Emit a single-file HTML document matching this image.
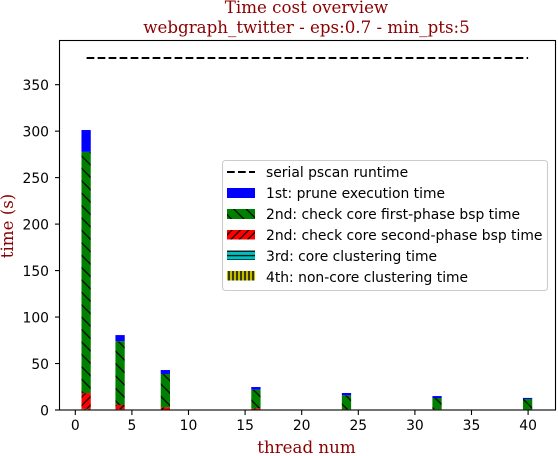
<!DOCTYPE html>
<html>
<head>
<meta charset="utf-8">
<style>
html,body{margin:0;padding:0;background:#fff;}
svg{display:block;}
text{font-family:"DejaVu Sans","Liberation Sans",sans-serif;font-size:13.89px;fill:#000;}
.serif{font-family:"DejaVu Serif","Liberation Serif",serif;fill:#8b0000;font-size:16.67px;text-anchor:middle;}
</style>
</head>
<body>
<svg id="chart" width="558" height="456" viewBox="0 0 558 456" xmlns="http://www.w3.org/2000/svg">
<defs>
<pattern id="h-green" patternUnits="userSpaceOnUse" width="12.4" height="12.4"><rect width="12.4" height="12.4" fill="#008000"/><path d="M-2,-2 L14.4,14.4 M-2,10.4 L2,14.4 M10.4,-2 L14.4,2" stroke="#000" stroke-width="1.2"/></pattern>
<pattern id="h-red" patternUnits="userSpaceOnUse" width="8.4" height="8.4"><rect width="8.4" height="8.4" fill="#ff0000"/><path d="M-2,10.4 L10.4,-2 M-2,2 L2,-2 M6.4,10.4 L10.4,6.4" stroke="#000" stroke-width="1.2"/></pattern>
<pattern id="h-cyan" patternUnits="userSpaceOnUse" width="8" height="4.4" patternTransform="translate(0,250.5)"><rect width="8" height="4.4" fill="#00bfbf"/><path d="M0,0.7 H8" stroke="#000" stroke-width="1.2"/></pattern>
<pattern id="h-yellow" patternUnits="userSpaceOnUse" width="4" height="8" patternTransform="translate(227,0)"><rect width="4" height="8" fill="#bfbf00"/><path d="M2,0 V8" stroke="#000" stroke-width="1.4"/></pattern>
</defs>

<text class="serif" x="306.5" y="13">Time cost overview</text>
<text class="serif" x="306.5" y="33">webgraph_twitter - eps:0.7 - min_pts:5</text>
<text class="serif" x="306.5" y="453">thread num</text>
<text class="serif" transform="translate(13,226) rotate(-90)">time (s)</text>

<g id="plot"></g>

<rect x="59.5" y="40.5" width="496" height="369.5" fill="none" stroke="#000" stroke-width="1.1"/>

<g>
<rect x="222.5" y="160.5" width="325" height="130" rx="3" fill="#fff" fill-opacity="0.8" stroke="#ccc" stroke-width="1.1"/>
<g>
<line x1="227" x2="255" y1="172" y2="172" stroke="#000" stroke-width="2.08" stroke-dasharray="7.7 3.3"/>
<text x="266" y="177">serial pscan runtime</text>
</g>
<g>
<rect x="227" y="188" width="28" height="10" fill="#0000ff"/>
<text x="266" y="198">1st: prune execution time</text>
</g>
<g>
<rect x="227" y="209" width="28" height="10" fill="url(#h-green)"/>
<text x="266" y="219">2nd: check core first-phase bsp time</text>
</g>
<g>
<rect x="227" y="230" width="28" height="9.5" fill="url(#h-red)"/>
<text x="266" y="240">2nd: check core second-phase bsp time</text>
</g>
<g>
<rect x="227" y="250.5" width="28" height="9.5" fill="url(#h-cyan)"/>
<text x="266" y="261">3rd: core clustering time</text>
</g>
<g>
<rect x="227" y="271" width="28" height="9.5" fill="url(#h-yellow)"/>
<text x="266" y="282">4th: non-core clustering time</text>
</g>
</g>
</svg>
<script>
var threads = [1, 4, 8, 16, 24, 32, 40];
var nonCoreClustering = [1.0, 0.8, 0.5, 0.5, 0.2, 0.2, 0.1];
var coreClustering = [0.2, 0.2, 0.1, 0.1, 0.1, 0.1, 0.1];
var coreSecondPhase = [17, 4.4, 2.4, 1.2, 0.6, 0.5, 0.4];
var coreFirstPhase = [259.5, 68.6, 35.7, 20, 14.9, 12.1, 11.2];
var pruneTime = [23.5, 6.6, 4.3, 2.9, 2.5, 2.1, 1.2];
var serialRuntime = 378.7;
var xTicks = [0, 5, 10, 15, 20, 25, 30, 35, 40];
var yTicks = [0, 50, 100, 150, 200, 250, 300, 350];

var NS = 'http://www.w3.org/2000/svg';
var plot = document.getElementById('plot');
function xScale(v) { return 75.3 + v * 11.32; }
function yScale(v) { return 410 - v * 0.9295; }
function make(tag, attrs, parent) {
  var el = document.createElementNS(NS, tag);
  for (var k in attrs) el.setAttribute(k, attrs[k]);
  parent.appendChild(el);
  return el;
}
var barWidth = 0.82;
var layers = [
  { values: nonCoreClustering, fill: 'url(#h-yellow)', key: 'non-core-clustering' },
  { values: coreClustering, fill: 'url(#h-cyan)', key: 'core-clustering' },
  { values: coreSecondPhase, fill: 'url(#h-red)', key: 'core-second-phase' },
  { values: coreFirstPhase, fill: 'url(#h-green)', key: 'core-first-phase' },
  { values: pruneTime, fill: '#0000ff', key: 'prune' }
];
threads.forEach(function (t, i) {
  var base = 0;
  layers.forEach(function (layer) {
    var v = layer.values[i];
    var bar = make('rect', {
      x: xScale(t - barWidth / 2) - 0.5,
      y: yScale(base + v),
      width: xScale(barWidth) - xScale(0),
      height: yScale(base) - yScale(base + v),
      fill: layer.fill
    }, plot);
    
    
    base += v;
  });
});
var serialLine = make('line', {
  x1: xScale(threads[0]),
  x2: xScale(threads[threads.length - 1]),
  y1: yScale(serialRuntime),
  y2: yScale(serialRuntime),
  stroke: '#000',
  'stroke-width': 2.08,
  'stroke-dasharray': '7.7 3.3'
}, plot);


xTicks.forEach(function (t) {
  var tick = make('line', { x1: xScale(t), x2: xScale(t), y1: 410, y2: 415, stroke: '#000', 'stroke-width': 1.1 }, plot);
  
  
  var label = make('text', { x: xScale(t), y: 430, 'text-anchor': 'middle' }, plot);
  
  
  label.textContent = t;
});
yTicks.forEach(function (t) {
  var tick = make('line', { x1: 55, x2: 59.5, y1: yScale(t), y2: yScale(t), stroke: '#000', 'stroke-width': 1.1 }, plot);
  
  
  var label = make('text', { x: 49, y: yScale(t) + 5.3, 'text-anchor': 'end' }, plot);
  
  
  label.textContent = t;
});
</script>
</body>
</html>
